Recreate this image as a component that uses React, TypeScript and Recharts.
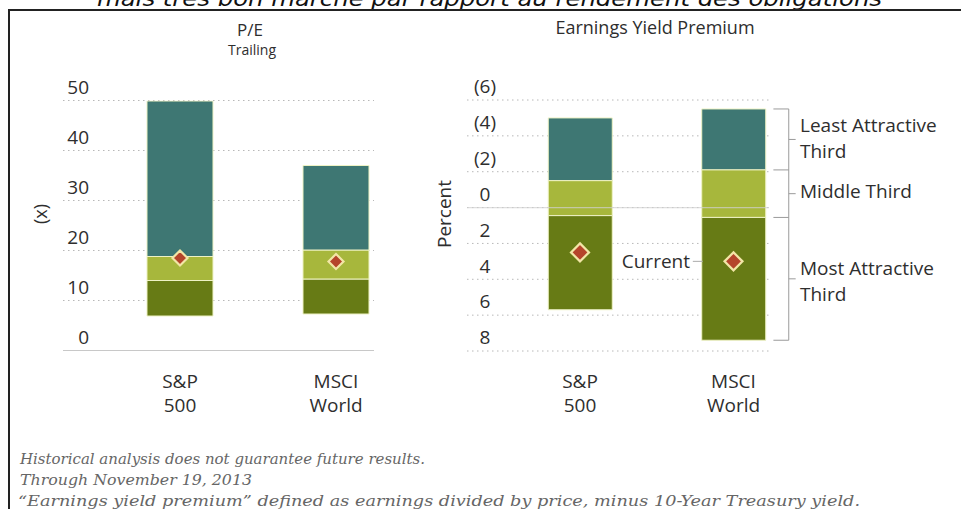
import React from 'react';
import { ComposedChart, Bar, Scatter, XAxis, YAxis, CartesianGrid, ReferenceLine } from 'recharts';

// ---------- data ----------
const categories = ['S&P 500', 'MSCI World'];
const catLine1 = ['S&P', 'MSCI'];
const catLine2 = ['500', 'World'];

// P/E, trailing (x): historical range split in thirds
const peLow = [6.9, 7.3];
const peMostTop = [14.0, 14.3];
const peMiddleTop = [18.8, 20.1];
const peHigh = [49.9, 37.0];
const peCurrent = [18.5, 17.8];
const peTicks = [0, 10, 20, 30, 40, 50];

// Earnings yield premium (percent), negatives shown in parentheses at top
const eyLeastEnd = [-5.0, -5.5];
const eyLeastMiddle = [-1.5, -2.1];
const eyMiddleMost = [0.45, 0.55];
const eyMostEnd = [5.7, 7.4];
const eyCurrent = [2.5, 3.0];
const eyTicks = [-6, -4, -2, 0, 2, 4, 6, 8];

// ---------- style ----------
const TEAL = '#3e7773';
const LIGHT = '#a7b73c';
const DARK = '#677b15';
const EDGE = '#eef2c4';
const DIAMOND = '#b5452b';
const DIAMOND_EDGE = '#f2e6a6';
const TXT = '#2e2e2e';
const FONT = '"Open Sans", "Noto Sans", sans-serif';

const peData = categories.map((c, i) => ({
  x: i,
  name: c,
  base: peLow[i],
  most: peMostTop[i] - peLow[i],
  middle: peMiddleTop[i] - peMostTop[i],
  least: peHigh[i] - peMiddleTop[i],
  current: peCurrent[i],
}));

const eyData = categories.map((c, i) => ({
  x: i,
  name: c,
  base: eyLeastEnd[i],
  least: eyLeastMiddle[i] - eyLeastEnd[i],
  middle: eyMiddleMost[i] - eyLeastMiddle[i],
  most: eyMostEnd[i] - eyMiddleMost[i],
  current: eyCurrent[i],
}));

const makeDiamond = (r: number) => (props: any) => {
  const { cx, cy } = props;
  if (cx == null || cy == null) return <g />;
  return (
    <polygon
      points={`${cx},${cy - r} ${cx + r},${cy} ${cx},${cy + r} ${cx - r},${cy}`}
      fill={DIAMOND}
      stroke={DIAMOND_EDGE}
      strokeWidth={2.2}
    />
  );
};

const XTick = (props: any) => {
  const { x, payload } = props;
  const i = payload.value as number;
  return (
    <g>
      <text x={x} y={381} dy="0.35em" textAnchor="middle" fontSize={19} fill={TXT} fontFamily={FONT}>
        {catLine1[i]}
      </text>
      <text x={x} y={405} dy="0.35em" textAnchor="middle" fontSize={19} fill={TXT} fontFamily={FONT}>
        {catLine2[i]}
      </text>
    </g>
  );
};

const PeYTick = (props: any) => {
  const { y, payload } = props;
  return (
    <text x={89} y={y - 13.5} dy="0.35em" textAnchor="end" fontSize={19} fill={TXT} fontFamily={FONT}>
      {payload.value}
    </text>
  );
};

const EyYTick = (props: any) => {
  const { y, payload } = props;
  const v = payload.value as number;
  return (
    <text x={485} y={y - 13.3} dy="0.35em" textAnchor="middle" fontSize={19} fill={TXT} fontFamily={FONT}>
      {v < 0 ? `(${-v})` : `${v}`}
    </text>
  );
};

const W = 961;
const H = 509;

// bracket annotation positions (data units of the right chart's x axis)
const brX = 1.36;
const brTickL = 1.26;
const brTickR = 1.405;
const brMid = (a: number, b: number) => (a + b) / 2;

export default function App() {
  const abs: React.CSSProperties = { position: 'absolute', left: 0, top: 0 };
  return (
    <div style={{ position: 'absolute', left: 0, top: 0, width: W, height: H, background: '#fff', overflow: 'hidden' }}>
      <svg width={W} height={H} style={abs}>
        <text x={97} y={6} fontSize={21} fontStyle="italic" fill="#111" fontFamily="DejaVu Sans, sans-serif"
          textLength={785} lengthAdjust="spacingAndGlyphs">
          mais très bon marché par rapport au rendement des obligations
        </text>
        <line x1={8} y1={10} x2={W} y2={10} stroke="#222" strokeWidth={2} />
        <line x1={9} y1={9} x2={9} y2={H} stroke="#222" strokeWidth={2} />
        <text x={250} y={30} dy="0.35em" textAnchor="middle" fontSize={17} fill={TXT} fontFamily={FONT}>P/E</text>
        <text x={252} y={50} dy="0.35em" textAnchor="middle" fontSize={14} fill={TXT} fontFamily={FONT}>Trailing</text>
        <text x={655} y={28} dy="0.35em" textAnchor="middle" fontSize={18} fill={TXT} fontFamily={FONT}>Earnings Yield Premium</text>
        <text transform="translate(41,214) rotate(-90)" dy="0.35em" textAnchor="middle" fontSize={18} fill={TXT} fontFamily={FONT}>(x)</text>
        <text transform="translate(444,214) rotate(-90)" dy="0.35em" textAnchor="middle" fontSize={19} fill={TXT} fontFamily={FONT}>Percent</text>
        <g fontFamily="DejaVu Serif, serif" fontStyle="italic" fontSize={15.5} fill="#666">
          <text x={20} y={464} textLength={405} lengthAdjust="spacingAndGlyphs">Historical analysis does not guarantee future results.</text>
          <text x={20} y={485} textLength={232} lengthAdjust="spacingAndGlyphs">Through November 19, 2013</text>
          <text x={18} y={506} textLength={842} lengthAdjust="spacingAndGlyphs">“Earnings yield premium” defined as earnings divided by price, minus 10-Year Treasury yield.</text>
        </g>
      </svg>

      <div style={abs}>
        <ComposedChart width={W} height={H} data={peData}
          margin={{ top: 100.5, right: W - 374, bottom: H - 350.5 - 30, left: 62 }}>
          <CartesianGrid vertical={false} stroke="#b8b8b8" strokeDasharray="1.5 3.5" />
          <XAxis dataKey="x" type="number" domain={[-0.75, 1.2436]} allowDataOverflow ticks={[0, 1]}
            axisLine={false} tickLine={false} height={30} tick={<XTick />} interval={0} />
          <YAxis type="number" domain={[0, 50]} allowDataOverflow ticks={peTicks} width={1}
            axisLine={false} tickLine={false} tick={<PeYTick />} interval={0} />
          <ReferenceLine y={0} stroke="#c8c8c8" strokeWidth={1.2} />
          <Bar dataKey="base" stackId="pe" fill="none" barSize={66} isAnimationActive={false} />
          <Bar dataKey="most" stackId="pe" fill={DARK} stroke={EDGE} strokeWidth={1} barSize={66} isAnimationActive={false} />
          <Bar dataKey="middle" stackId="pe" fill={LIGHT} stroke={EDGE} strokeWidth={1} barSize={66} isAnimationActive={false} />
          <Bar dataKey="least" stackId="pe" fill={TEAL} stroke={EDGE} strokeWidth={1} barSize={66} isAnimationActive={false} />
          <Scatter dataKey="current" shape={makeDiamond(7.5)} isAnimationActive={false} />
        </ComposedChart>
      </div>

      <div style={abs}>
        <ComposedChart width={W} height={H} data={eyData}
          margin={{ top: 100, right: W - 769, bottom: H - 351 - 30, left: 466 }}>
          <CartesianGrid vertical={false} stroke="#b8b8b8" strokeDasharray="1.5 3.5" />
          <XAxis dataKey="x" type="number" domain={[-0.7362, 1.2313]} allowDataOverflow ticks={[0, 1]}
            axisLine={false} tickLine={false} height={30} tick={<XTick />} interval={0} />
          <YAxis type="number" domain={[-6, 8]} reversed allowDataOverflow ticks={eyTicks} width={1}
            axisLine={false} tickLine={false} tick={<EyYTick />} interval={0} />
          <Bar dataKey="base" stackId="ey" fill="none" barSize={64} isAnimationActive={false} />
          <Bar dataKey="least" stackId="ey" fill={TEAL} stroke={EDGE} strokeWidth={1} barSize={64} isAnimationActive={false} />
          <Bar dataKey="middle" stackId="ey" fill={LIGHT} stroke={EDGE} strokeWidth={1} barSize={64} isAnimationActive={false} />
          <Bar dataKey="most" stackId="ey" fill={DARK} stroke={EDGE} strokeWidth={1} barSize={64} isAnimationActive={false} />
          <ReferenceLine y={0} stroke="#d0d0d0" strokeOpacity={0.7} strokeWidth={1.2} />
          <Scatter dataKey="current" shape={makeDiamond(9)} isAnimationActive={false} />
          {/* bracket for MSCI World thirds */}
          <ReferenceLine ifOverflow="visible" stroke="#9a9a9a"
            segment={[{ x: brX, y: eyLeastEnd[1] }, { x: brX, y: eyMostEnd[1] }]} />
          {[eyLeastEnd[1], eyLeastMiddle[1], eyMiddleMost[1], eyMostEnd[1]].map((v, k) => (
            <ReferenceLine key={`t${k}`} ifOverflow="visible" stroke="#9a9a9a"
              segment={[{ x: brTickL, y: v }, { x: brX, y: v }]} />
          ))}
          {[
            brMid(eyLeastEnd[1], eyLeastMiddle[1]),
            brMid(eyLeastMiddle[1], eyMiddleMost[1]),
            brMid(eyMiddleMost[1], eyMostEnd[1]),
          ].map((v, k) => (
            <ReferenceLine key={`m${k}`} ifOverflow="visible" stroke="#9a9a9a"
              segment={[{ x: brX, y: v }, { x: brTickR, y: v }]} />
          ))}
          {/* leader from "Current" label to MSCI diamond */}
          <ReferenceLine ifOverflow="visible" stroke="#aaaaaa"
            segment={[{ x: 0.735, y: eyCurrent[1] }, { x: 0.8, y: eyCurrent[1] }]} />
        </ComposedChart>
      </div>

      <svg width={W} height={H} style={{ ...abs, pointerEvents: 'none' }}>
        <g fontFamily={FONT} fontSize={19} fill={TXT}>
          <text x={690} y={261} dy="0.35em" textAnchor="end">Current</text>
          <text x={800} y={125} dy="0.35em">Least Attractive</text>
          <text x={800} y={151} dy="0.35em">Third</text>
          <text x={800} y={191} dy="0.35em">Middle Third</text>
          <text x={800} y={268} dy="0.35em">Most Attractive</text>
          <text x={800} y={294} dy="0.35em">Third</text>
        </g>
      </svg>
    </div>
  );
}
